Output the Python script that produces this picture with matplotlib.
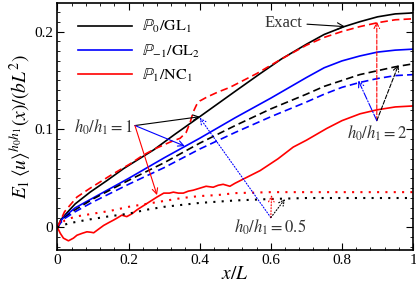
import matplotlib
matplotlib.use('Agg')
import matplotlib.pyplot as plt
from matplotlib.ticker import MultipleLocator, FuncFormatter

plt.rcParams['font.family'] = ['Liberation Serif', 'DejaVu Serif']
plt.rcParams['mathtext.fontset'] = 'stix'

# h0/h1 = 1 (solid)
x_blk1 = [0, 0.01, 0.027, 0.05, 0.092, 0.14, 0.186, 0.23, 0.27, 0.33, 0.40, 0.45, 0.5, 0.57,
          0.63, 0.7, 0.75, 0.806, 0.85, 0.9, 0.95, 1.0]
y_blk1 = [0, 0.008, 0.015, 0.024, 0.036, 0.048, 0.060, 0.070, 0.079, 0.095, 0.113, 0.126, 0.139, 0.157,
          0.172, 0.187, 0.197, 0.205, 0.210, 0.215, 0.218, 0.219]
x_blu1 = [0, 0.01, 0.02, 0.05, 0.1, 0.15, 0.2, 0.3, 0.4, 0.5, 0.6, 0.7, 0.75, 0.8, 0.85, 0.9, 0.95, 1.0]
y_blu1 = [0, 0.007, 0.011, 0.020, 0.030, 0.040, 0.050, 0.071, 0.091, 0.112, 0.132, 0.153, 0.163,
          0.170, 0.175, 0.179, 0.181, 0.182]
x_red1 = [0, 0.008, 0.017, 0.031, 0.045, 0.055, 0.07, 0.083, 0.095, 0.102, 0.115, 0.130, 0.145,
          0.158, 0.170, 0.181, 0.195, 0.21, 0.224, 0.252, 0.280, 0.299, 0.315, 0.326, 0.34, 0.354,
          0.368, 0.382, 0.40, 0.418, 0.438, 0.452, 0.466, 0.485, 0.499, 0.57, 0.62, 0.663, 0.7,
          0.757, 0.8, 0.851, 0.898, 0.95, 1.0]
y_red1 = [0, -0.006, -0.011, -0.0137, -0.011, -0.008, -0.006, -0.0045, -0.005, -0.0055, -0.002, 0.002, 0.005,
          0.0075, 0.010, 0.0125, 0.011, 0.014, 0.018, 0.0245, 0.031, 0.035, 0.035, 0.036, 0.035, 0.035,
          0.037, 0.038, 0.040, 0.042, 0.041, 0.043, 0.044, 0.042, 0.045, 0.058, 0.070, 0.082, 0.089,
          0.101, 0.109, 0.116, 0.120, 0.123, 0.124]

# h0/h1 = 2 (dashed)
x_blk2 = [0, 0.01, 0.02, 0.05, 0.1, 0.2, 0.3, 0.4, 0.5, 0.6, 0.7, 0.75, 0.8, 0.85, 0.9, 0.95, 1.0]
y_blk2 = [0, 0.006, 0.010, 0.018, 0.029, 0.048, 0.066, 0.086, 0.104, 0.121, 0.136, 0.144, 0.150,
          0.156, 0.160, 0.164, 0.167]
x_blu2 = [0, 0.01, 0.02, 0.05, 0.1, 0.2, 0.3, 0.4, 0.5, 0.6, 0.7, 0.75, 0.8, 0.85, 0.9, 0.95, 1.0]
y_blu2 = [0, 0.005, 0.009, 0.016, 0.026, 0.044, 0.061, 0.080, 0.097, 0.113, 0.128, 0.136, 0.143,
          0.148, 0.152, 0.155, 0.156]
x_red2 = [0, 0.02, 0.055, 0.092, 0.149, 0.205, 0.242, 0.279, 0.316, 0.345, 0.362, 0.373, 0.382,
          0.391, 0.40, 0.42, 0.45, 0.485, 0.56, 0.63, 0.7, 0.75, 0.8, 0.85, 0.9, 0.95, 1.0]
y_red2 = [0, 0.016, 0.031, 0.040, 0.053, 0.065, 0.074, 0.081, 0.087, 0.091, 0.097, 0.107, 0.118,
          0.125, 0.129, 0.133, 0.138, 0.143, 0.157, 0.172, 0.186, 0.194, 0.200, 0.205, 0.209, 0.212, 0.213]

# h0/h1 = 0.5 (dotted)
x_red05 = [0, 0.02, 0.05, 0.1, 0.15, 0.2, 0.25, 0.3, 0.35, 0.4, 0.45, 0.5, 0.6, 0.7, 0.8, 0.9, 1.0]
y_red05 = [0, 0.007, 0.011, 0.014, 0.017, 0.021, 0.024, 0.027, 0.030, 0.032, 0.033, 0.035, 0.036,
           0.036, 0.036, 0.036, 0.036]
x_blk05 = [0, 0.03, 0.08, 0.14, 0.2, 0.25, 0.3, 0.35, 0.4, 0.5, 0.6, 0.7, 0.8, 0.9, 1.0]
y_blk05 = [0, 0.004, 0.0075, 0.011, 0.014, 0.018, 0.021, 0.023, 0.025, 0.0275, 0.029, 0.030, 0.030,
           0.030, 0.030]

fig = plt.figure(figsize=(4.16, 2.84), dpi=100)
ax = fig.add_axes([0.138, 0.120, 0.855, 0.869])

lw = 1.2
dash = (0, (4.5, 2.5))
dot = (0, (1, 3))
ax.plot(x_blk1, y_blk1, color='k', lw=lw, label=r'$\mathbb{P}_0/\mathrm{GL}_1$')
ax.plot(x_blu1, y_blu1, color='b', lw=lw, label=r'$\mathbb{P}_{-1}/\mathrm{GL}_2$')
ax.plot(x_red1, y_red1, color='r', lw=lw, label=r'$\mathbb{P}_1/\mathrm{NC}_1$')
ax.plot(x_blk2, y_blk2, color='k', lw=lw, ls=dash)
ax.plot(x_blu2, y_blu2, color='b', lw=lw, ls=dash)
ax.plot(x_red2, y_red2, color='r', lw=lw, ls=dash)
ax.plot(x_red05, y_red05, color='r', lw=1.5, ls=dot)
ax.plot(x_blk05, y_blk05, color='k', lw=1.5, ls=dot)

ax.set_xlim(0, 1)
ax.set_ylim(-0.023, 0.229)
ax.xaxis.set_major_locator(MultipleLocator(0.2))
ax.xaxis.set_minor_locator(MultipleLocator(0.04))
ax.yaxis.set_major_locator(MultipleLocator(0.1))
ax.yaxis.set_minor_locator(MultipleLocator(0.01))
fmt = FuncFormatter(lambda v, p: '%g' % round(v, 3))
ax.xaxis.set_major_formatter(fmt)
ax.yaxis.set_major_formatter(fmt)
ax.tick_params(which='both', direction='in', top=True, right=True, labelsize=11)
ax.tick_params(which='major', length=5, width=0.8, pad=3)
ax.tick_params(which='minor', length=2.5, width=0.6)
for s in ax.spines.values():
    s.set_linewidth(1.2)

ax.set_xlabel(r'$x/L$', fontsize=14, labelpad=-1)
ax.set_ylabel(r'$E_1\,\langle u\rangle^{h_0h_1}(x)/(bL^2)$', fontsize=14, labelpad=1)

ax.legend(loc='upper left', bbox_to_anchor=(0.04, 0.965), frameon=False, fontsize=11.5,
          handlelength=3.4, labelspacing=0.45, handletextpad=0.6, borderaxespad=0)

tc = '#333333'
fs = 12
# Exact
ax.annotate('Exact', xy=(0.809, 0.205), xytext=(0.69, 0.209), ha='right', va='center',
            fontsize=fs, color=tc,
            arrowprops=dict(arrowstyle='->', color='k', lw=0.8, shrinkA=1, shrinkB=0))

# h0/h1 = 1
ax.text(0.213, 0.102, r'$h_0/h_1=1$', ha='right', va='center', fontsize=fs, color=tc)
o1 = (0.218, 0.104)
for tip, c in [((0.40, 0.113), 'k'), ((0.358, 0.083), 'b'), ((0.28, 0.033), 'r')]:
    ax.annotate('', xy=tip, xytext=o1,
                arrowprops=dict(arrowstyle='->', color=c, lw=0.8, shrinkA=0, shrinkB=0))

# h0/h1 = 2
ax.text(0.90, 0.096, r'$h_0/h_1=2$', ha='center', va='center', fontsize=fs, color=tc)
o2 = (0.898, 0.109)
for tip, c, s in [((0.898, 0.210), 'r', '--'), ((0.959, 0.166), 'k', '--'), ((0.846, 0.150), 'b', '-.')]:
    ax.annotate('', xy=tip, xytext=o2,
                arrowprops=dict(arrowstyle='->', color=c, lw=0.8, ls=s, shrinkA=0, shrinkB=0))

# h0/h1 = 0.5
ax.text(0.598, 0.0, r'$h_0/h_1=0.5$', ha='center', va='center', fontsize=fs, color=tc)
o3 = (0.60, 0.010)
for tip, c in [((0.40, 0.112), 'b'), ((0.602, 0.033), 'r'), ((0.64, 0.029), 'k')]:
    ax.annotate('', xy=tip, xytext=o3,
                arrowprops=dict(arrowstyle='->', color=c, lw=0.8, ls=':', shrinkA=0, shrinkB=0))

fig.savefig('out.png', dpi=100)
